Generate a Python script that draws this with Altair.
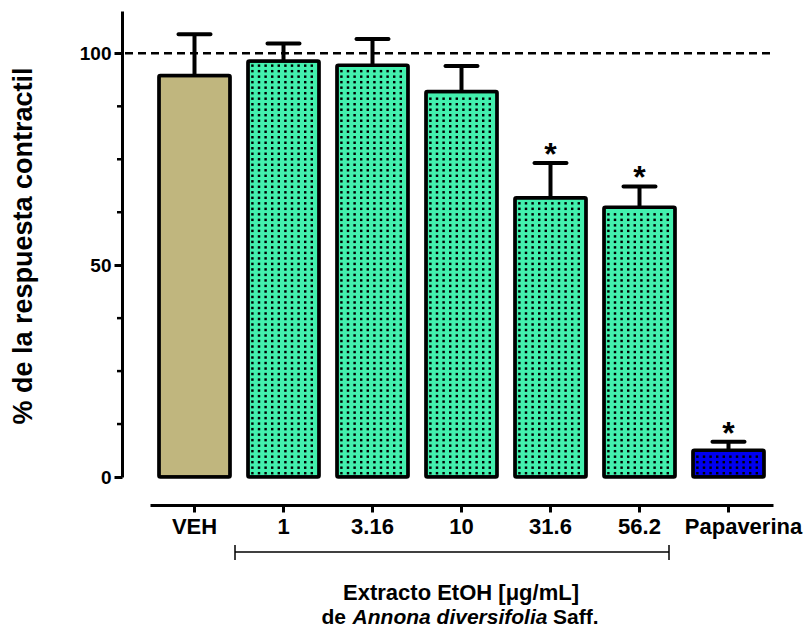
import altair as alt
import pandas as pd

# ---- data ----
categories = ["VEH", "1", "3.16", "10", "31.6", "56.2", "Papaverina"]
means = [94.8, 98.2, 97.2, 91.0, 65.9, 63.7, 6.3]
sems = [9.7, 4.1, 6.2, 6.0, 8.2, 4.9, 2.0]
signif = ["", "", "", "", "*", "*", "*"]
fills = ["#C0B67E", "#43F0AE", "#43F0AE", "#43F0AE", "#43F0AE", "#43F0AE", "#0000F0"]
dotted = [False, True, True, True, True, True, True]
major_ticks = [0, 50, 100]
minor_ticks = [12.5, 25, 37.5, 62.5, 75, 87.5]
reference_level = [100]
y_title = "% de la respuesta contractil"
x_title_line1 = "Extracto EtOH [μg/mL]"
x_title_line2 = ["de", "Annona diversifolia", "Saff."]

FONT = "Liberation Sans"
W, H = 623, 466

df = pd.DataFrame({
    "cat": categories,
    "idx": list(range(len(categories))),
    "mean": means,
    "sem": sems,
    "top": [m + s for m, s in zip(means, sems)],
    "sig": signif,
    "fill": fills,
    "dotted": dotted,
})

yscale = alt.Scale(domain=[0, 110], nice=False, zero=True)
xscale = alt.Scale(domain=categories, paddingInner=0.2, paddingOuter=0.1)

xaxis = alt.Axis(title=None, labelAngle=0, labelFont=FONT, labelFontSize=22,
                 labelFontWeight="bold", labelColor="black", labelPadding=4,
                 tickSize=7, tickWidth=3, tickColor="black", domainWidth=3,
                 domainColor="black", offset=28, grid=False,
                 labelOffset={"condition": {"test": "datum.value === 'Papaverina'", "value": 15},
                              "value": 0})
yaxis = alt.Axis(title=None, values=major_ticks, labelFont=FONT, labelFontSize=19,
                 labelFontWeight="bold", labelColor="black", labelPadding=3,
                 tickSize=8, tickWidth=3, tickColor="black", domainWidth=3,
                 domainColor="black", offset=28, grid=False)

X = alt.X("cat:N", scale=xscale, sort=categories, axis=xaxis)

base = alt.Chart(df)

ref = alt.Chart(pd.DataFrame({"v": reference_level})).mark_rule(
    color="black", strokeWidth=2.5, strokeDash=[8, 5]
).encode(y=alt.Y("v:Q", scale=yscale, axis=yaxis), x=alt.value(-25), x2=alt.value(W))

minor = alt.Chart(pd.DataFrame({"v": minor_ticks})).mark_rule(
    color="black", strokeWidth=2.5
).encode(y=alt.Y("v:Q", scale=yscale, axis=yaxis), x=alt.value(-33), x2=alt.value(-28))

stem = base.mark_rule(color="black", strokeWidth=4).encode(
    x=X, y=alt.Y("mean:Q", scale=yscale, axis=yaxis), y2="top:Q")

cap = base.mark_tick(color="black", size=36, thickness=4, cornerRadius=2, opacity=1).encode(
    x=X, y=alt.Y("top:Q", scale=yscale, axis=yaxis))

bars = base.mark_bar(stroke=None).encode(
    x=X, y=alt.Y("mean:Q", scale=yscale, axis=yaxis),
    fill=alt.Fill("fill:N", scale=None))

outline = base.mark_bar(fill=None, fillOpacity=0, stroke="black", strokeWidth=3.5,
                        strokeJoin="round", cornerRadius=1.5).encode(
    x=X, y=alt.Y("mean:Q", scale=yscale, axis=yaxis))

stars = base.mark_text(font=FONT, fontSize=32, fontWeight="bold", color="black",
                       baseline="alphabetic", dy=2).encode(
    x=X, y=alt.Y("top:Q", scale=yscale, axis=yaxis), text="sig:N")

def label(txt, x, y, size, align="center", angle=0, style="normal"):
    return alt.Chart(pd.DataFrame({"t": [txt]})).mark_text(
        font=FONT, fontSize=size, fontWeight="bold", fontStyle=style, color="black",
        align=align, baseline="alphabetic", angle=angle
    ).encode(x=alt.value(x), y=alt.value(y), text="t:N")

ytitle = label(y_title, -118, 235, 27, angle=270)
xt1 = label(x_title_line1, 311, 589, 22)
xt2a = label(x_title_line2[0], 196, 613, 21, align="right")
xt2b = label(x_title_line2[1], 300, 613, 21, style="italic")
xt2c = label(x_title_line2[2], 403, 613, 21, align="left")

def seg(x1, x2, y1, y2):
    return alt.Chart(pd.DataFrame({"d": [0]})).mark_rule(color="black", strokeWidth=1.5).encode(
        x=alt.value(x1), x2=alt.value(x2), y=alt.value(y1), y2=alt.value(y2))

bracket = seg(85, 519, 541, 541) + seg(85, 85, 534, 549) + seg(519, 519, 534, 549)

inner = alt.layer(ref, minor, stem, bars, outline, cap, stars,
                  ytitle, xt1, xt2a, xt2b, xt2c, bracket)

dots = alt.Chart(df).transform_filter("datum.dotted").transform_calculate(
    col="sequence(0, 10)"
).transform_flatten(["col"]).transform_calculate(
    row="sequence(0.9, datum.mean - 0.8, 1.3)"
).transform_flatten(["row"]).transform_calculate(
    dx="datum.idx + 0.1 + (4.5 + datum.col * 6.6) / 89"
).mark_square(size=6, color="black", opacity=1).encode(
    x=alt.X("dx:Q", scale=alt.Scale(domain=[0, 7], nice=False, zero=False), axis=None),
    y=alt.Y("row:Q", scale=yscale, axis=None))

chart = alt.layer(inner, dots).resolve_scale(
    x="independent", y="independent"
).properties(
    width=W, height=H,
    padding={"left": 150, "top": 11, "right": 35, "bottom": 150},
    autosize=alt.AutoSizeParams(type="none"),
    background="white",
).configure_view(stroke=None)

chart.save("out.html", embed_options={"renderer": "svg", "actions": False})
